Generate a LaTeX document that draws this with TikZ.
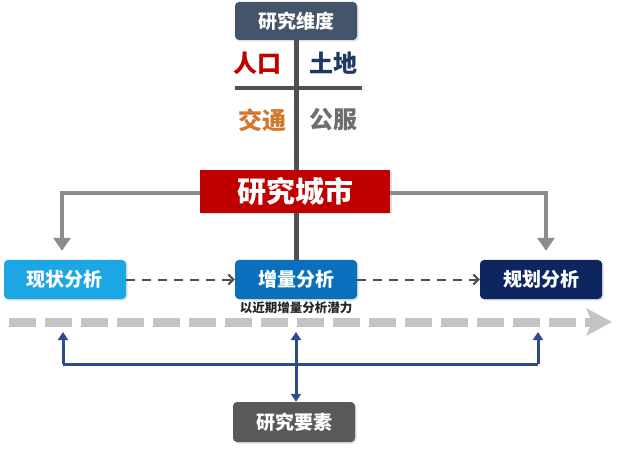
\documentclass[tikz,border=0pt]{standalone}
\usepackage{fontspec}
\setmainfont{Noto Sans CJK SC}
\usetikzlibrary{arrows.meta,shadows}
\definecolor{slate}{HTML}{44546A}
\definecolor{cred}{HTML}{C00000}
\definecolor{cnavy}{HTML}{1F3864}
\definecolor{corange}{HTML}{D0782E}
\definecolor{cgray}{HTML}{6E6E6E}
\definecolor{lblue}{HTML}{1DA6E4}
\definecolor{mblue}{HTML}{0A70BE}
\definecolor{dblue}{HTML}{0D2660}
\definecolor{ggray}{HTML}{595959}
\definecolor{lgray}{HTML}{C4C4C4}
\definecolor{lnk}{HTML}{2E4B8B}
\definecolor{linegray}{HTML}{8C8C8C}
\definecolor{darkline}{HTML}{505050}
\tikzset{
  box/.style={rounded corners=4pt, minimum width=122pt, minimum height=39pt, text=white, font=\bfseries\fontsize{19}{19}\selectfont, inner sep=0pt, drop shadow={opacity=0.25, shadow xshift=1.5pt, shadow yshift=-1.5pt}},
  dim/.style={font=\bfseries\fontsize{24}{24}\selectfont, inner sep=0pt},
  grayarrow/.style={draw=linegray, line width=3.5pt, shorten >=9pt, -{Triangle[length=13pt,width=17pt]}},
  dasharrow/.style={draw=darkline, line width=2pt, dash pattern=on 9pt off 7pt, -{Straight Barb[length=5pt,width=10pt]}},
  bluelink/.style={draw=lnk, line width=3pt},
}
\begin{document}
\begin{tikzpicture}[x=1pt,y=-1pt]
\useasboundingbox (0,0) rectangle (640,449);
\fill[white] (0,0) rectangle (640,449);
% nodes
\node[box, fill=slate, minimum width=122pt, minimum height=38pt] (dim) at (296,21) {研究维度};
\node[box, fill=cred, rounded corners=0pt, minimum width=190pt, minimum height=43pt, font=\bfseries\fontsize{29}{29}\selectfont] (city) at (295,191.5) {研究城市};
\node[box, fill=lblue] (xz) at (65,279.5) {现状分析};
\node[box, fill=mblue] (zl) at (296,279.5) {增量分析};
\node[box, fill=dblue] (gh) at (541,279.5) {规划分析};
\node[box, fill=ggray, minimum height=40pt] (ys) at (294,422) {研究要素};
% cross lines
\coordinate (hl) at (235,88);
\coordinate (hr) at (362,88);
\draw[darkline, line width=5pt] (dim.south -| 296,0) -- (city.north -| 296,0);
\draw[darkline, line width=4pt] (hl) -- (hr);
\draw[darkline, line width=5pt] (city.south -| 296,0) -- (zl.north);
% dimension labels
\node[dim, text=cred] (rk) at (257,63) {人口};
\node[dim, text=cnavy] (td) at (333,63) {土地};
\node[dim, text=corange] (jt) at (262,120) {交通};
\node[dim, text=cgray] (gf) at (333,120) {公服};
% gray branch arrows
\coordinate (bl) at (62,193);
\coordinate (br) at (546,193);
\draw[grayarrow] (city.west |- bl) -- (bl) -- (bl |- xz.north) ;
\draw[grayarrow] (city.east |- br) -- (br) -- (br |- gh.north);
% dashed arrows
\draw[dasharrow] (xz.east) -- (zl.west);
\draw[dasharrow] (zl.east) -- (gh.west);
\node[font=\bfseries\fontsize{12.5}{12.5}\selectfont, text=black!85, inner sep=0pt] (note) at (296,308) {以近期增量分析潜力};
% timeline
\coordinate (t0) at (9,322);
\coordinate (t1) at (592,322);
\coordinate (t2) at (612,322);
\draw[lgray, line width=9pt, dash pattern=on 27pt off 9pt] (t0) -- (t1);
\fill[lgray] (t1) ++(-6,-14) -- (t2) -- ++(-26,14) -- ++(6,-14) -- cycle;
% blue links
\coordinate (ua) at (63,332);
\coordinate (ub) at (296,332);
\coordinate (uc) at (538,332);
\coordinate (la) at (63,364);
\coordinate (lc) at (538,364);
\draw[bluelink, -{Triangle[length=8pt,width=10pt]}] (la) -- (ua);
\draw[bluelink, -{Triangle[length=8pt,width=10pt]}] (lc) -- (uc);
\draw[bluelink] (la) -- (lc);
\draw[bluelink, {Triangle[length=8pt,width=10pt]}-{Triangle[length=8pt,width=10pt]}] (ub) -- (ys.north -| ub);
\end{tikzpicture}
\end{document}
